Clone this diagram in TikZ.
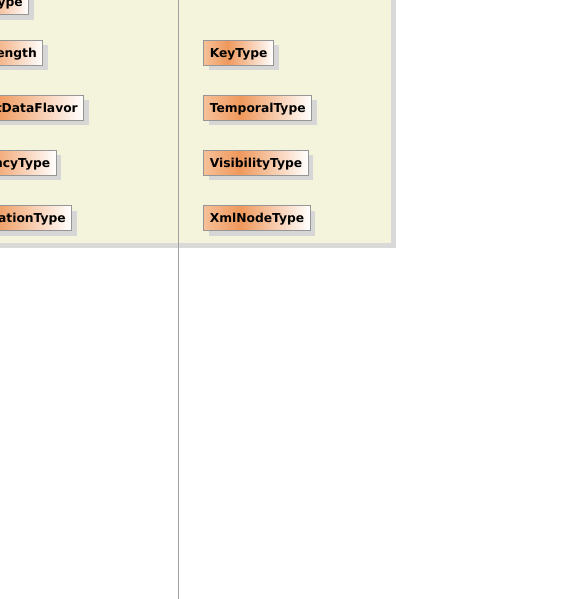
\documentclass[tikz,border=0pt]{standalone}
\usepackage{fontspec}
\setmainfont{DejaVu Sans}
\usetikzlibrary{shadows}
\definecolor{pkgbg}{RGB}{244,244,221}
\definecolor{pkgsh}{RGB}{217,217,217}
\definecolor{boxsh}{RGB}{214,214,214}
\definecolor{orL}{RGB}{246,192,152}
\definecolor{orD}{RGB}{239,152,92}
\definecolor{bordc}{RGB}{150,150,150}
\definecolor{linec}{RGB}{160,160,160}
\pgfdeclarehorizontalshading{typeshade}{100bp}{color(0bp)=(orL); color(25bp)=(orL); color(42bp)=(orD); color(75bp)=(white); color(100bp)=(white)}
\tikzset{
  typebox/.style={draw=bordc, line width=1pt, shading=typeshade,
    minimum height=25pt, inner ysep=0pt, inner xsep=6pt,
    text height=8.9pt, text depth=0pt,
    font=\fontsize{12.3}{14}\selectfont\bfseries,
    drop shadow={shadow xshift=5pt, shadow yshift=-5pt, fill=boxsh, opacity=1}},
  rbox/.style={typebox, anchor=west},
  lbox/.style={typebox, anchor=east},
}
\begin{document}
\begin{tikzpicture}[x=1pt,y=1pt]
\useasboundingbox (0,0) rectangle (585,-599);
\clip (0,0) rectangle (585,-599);
% package background with shadow
\fill[pkgsh] (0,0) rectangle (396,-248);
\fill[pkgbg] (0,0) rectangle (391,-242.5);
% left column (clipped at the picture's edge)
\node[lbox] (l0) at (29.3,-2.5) {\hspace*{40pt}ype};
\node[lbox] (l1) at (43.3,-52.8) {\hspace*{40pt}ength};
\node[lbox] (l2) at (84.3,-107.8) {\hspace*{40pt}tDataFlavor};
\node[lbox] (l3) at (56.7,-162.7) {\hspace*{40pt}ncyType};
\node[lbox] (l4) at (72.3,-218) {\hspace*{40pt}ationType};
% right column
\node[rbox] (r1) at (203.3,-52.8) {KeyType};
\node[rbox] (r2) at (203.3,-107.8) {TemporalType};
\node[rbox] (r3) at (203.3,-162.7) {VisibilityType};
\node[rbox] (r4) at (203.3,-218) {XmlNodeType};
% vertical line
\coordinate (vt) at (178.5,0);
\coordinate (vb) at (178.5,-599);
\draw[linec, line width=1pt] (vt) -- (vb);
\end{tikzpicture}
\end{document}
